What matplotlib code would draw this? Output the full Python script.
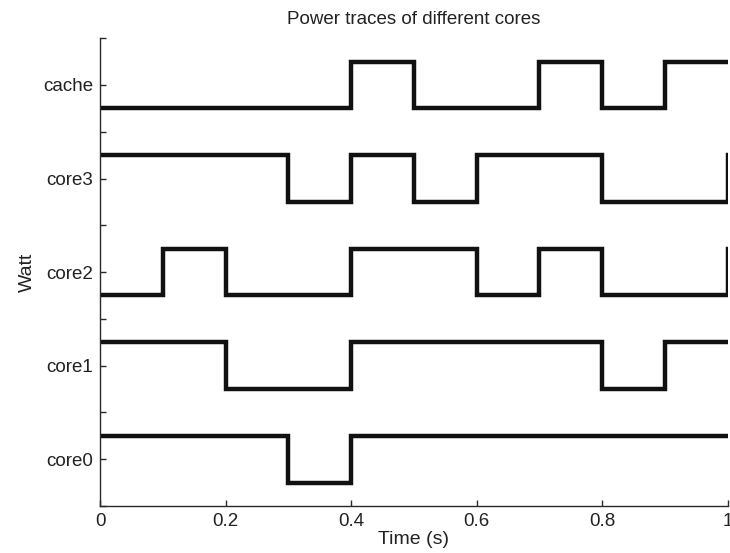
import numpy as np
import matplotlib
matplotlib.use("Agg")
import matplotlib.pyplot as plt

plt.rcParams['font.family'] = ['Liberation Sans', 'DejaVu Sans']

# tempo em segundos, um estado a cada 0.1 s (o ultimo ponto fecha a curva)
tempo = [0.0, 0.1, 0.2, 0.3, 0.4, 0.5, 0.6, 0.7, 0.8, 0.9, 1.0]

# estado de cada nucleo: 1 = alto, 0 = baixo
cache = [0, 0, 0, 0, 1, 0, 0, 1, 0, 1, 1]
core3 = [1, 1, 1, 0, 1, 0, 1, 1, 0, 0, 1]
core2 = [0, 1, 0, 0, 1, 1, 0, 1, 0, 0, 1]
core1 = [1, 1, 0, 0, 1, 1, 1, 1, 0, 1, 1]
core0 = [1, 1, 1, 0, 1, 1, 1, 1, 1, 1, 1]

nomes = ['core0', 'core1', 'core2', 'core3', 'cache']
estados = [core0, core1, core2, core3, cache]
centros = [1, 3, 5, 7, 9]

fig = plt.figure(figsize=(7.30, 5.53), dpi=100)
ax = fig.add_axes([0.137, 0.085, 0.860, 0.846])

for c, est in zip(centros, estados):
    y = c - 0.5 + np.array(est)
    ax.plot(tempo, y, drawstyle='steps-post', color='#111111', lw=3.2,
            solid_joinstyle='miter')

ax.set_xlim(0, 1)
ax.set_ylim(0, 10)
ax.set_xticks([0, 0.2, 0.4, 0.6, 0.8, 1])
ax.set_xticklabels(['0', '0.2', '0.4', '0.6', '0.8', '1'])
ax.set_yticks(range(11))
rot = ['' for i in range(11)]
for c, n in zip(centros, nomes):
    rot[c] = n
ax.set_yticklabels(rot)

ax.spines['top'].set_visible(False)
ax.spines['right'].set_visible(False)
for s in ['left', 'bottom']:
    ax.spines[s].set_color('#2a2a2a')
    ax.spines[s].set_linewidth(1.0)
ax.tick_params(direction='in', length=4, width=1, color='#2a2a2a',
               labelsize=13.5, labelcolor='#222222', pad=5)

ax.set_title('Power traces of different cores', fontsize=13.5, color='#222222', pad=10)
ax.set_xlabel('Time (s)', fontsize=14, color='#222222', labelpad=1)
ax.set_ylabel('Watt', fontsize=14, color='#222222', labelpad=5)

fig.savefig('out.png', dpi=100)
